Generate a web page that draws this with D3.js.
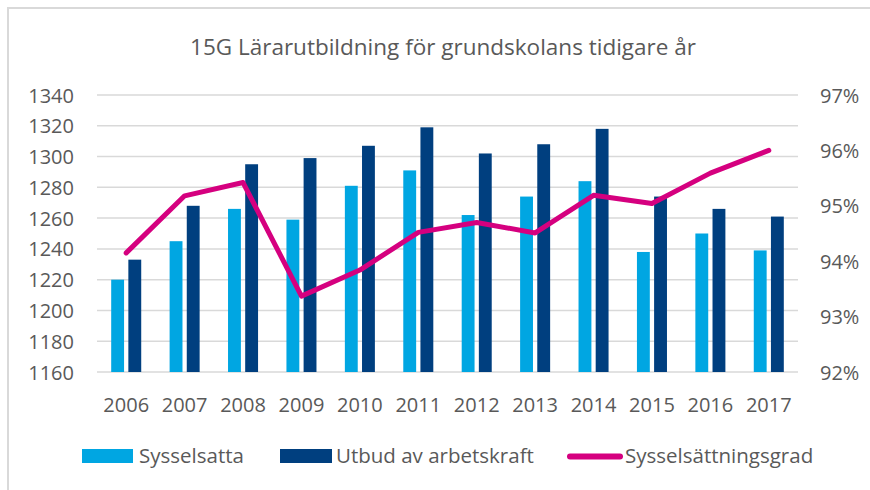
<!DOCTYPE html>
<html>
<head>
<meta charset="utf-8">
<script src="https://cdn.jsdelivr.net/npm/d3@7"></script>
<style>
  body { margin: 0; background: #fff; }
  text { font-family: "Open Sans", sans-serif; fill: #595959; }
</style>
</head>
<body>
<script>
const years = ["2006", "2007", "2008", "2009", "2010", "2011", "2012", "2013", "2014", "2015", "2016", "2017"];
const sysselsatta = [1220, 1245, 1266, 1259, 1281, 1291, 1262, 1274, 1284, 1238, 1250, 1239];
const utbud = [1233, 1268, 1295, 1299, 1307, 1319, 1302, 1308, 1318, 1274, 1266, 1261];
const grad = [94.15, 95.18, 95.42, 93.37, 93.84, 94.52, 94.70, 94.51, 95.19, 95.04, 95.59, 96.0];
const leftTicks = [1160, 1180, 1200, 1220, 1240, 1260, 1280, 1300, 1320, 1340];
const rightTicks = [92, 93, 94, 95, 96, 97];

const width = 870, height = 490;
const plot = {left: 97, right: 798, top: 95, bottom: 372};

const colLight = "#00a6e2", colDark = "#003f7f", colLine = "#d5007f";

let svg = d3.select("body")
    .append("svg")
    .attr("width", width)
    .attr("height", height);

// frame
svg.append("path")
    .attr("d", "M8,490 V8 H870")
    .attr("fill", "none")
    .attr("stroke", "#d9d9d9")
    .attr("stroke-width", 2);

let x0 = d3.scaleBand()
    .domain(years)
    .range([plot.left, plot.right])
    .paddingInner(0.486)
    .paddingOuter(0.243);

let x1 = d3.scaleBand()
    .domain(["s", "u"])
    .range([0, x0.bandwidth()])
    .paddingInner(0.25);

let yLeft = d3.scaleLinear()
    .domain([1160, 1340])
    .range([plot.bottom, plot.top]);

let yRight = d3.scaleLinear()
    .domain([92, 97])
    .range([plot.bottom, plot.top]);

// gridlines
svg.append("g")
    .selectAll("line")
    .data(leftTicks)
    .enter()
    .append("line")
    .attr("x1", plot.left)
    .attr("x2", plot.right)
    .attr("y1", d => yLeft(d))
    .attr("y2", d => yLeft(d))
    .attr("stroke", "#d9d9d9")
    .attr("stroke-width", 1.5);

// left axis
let axL = svg.append("g")
    .attr("transform", "translate(" + (plot.left - 23) + ",0)")
    .call(d3.axisLeft(yLeft).tickValues(leftTicks).tickSize(0).tickPadding(0)
        .tickFormat(d3.format("d")));
axL.select(".domain").remove();
axL.selectAll("text").style("font-size", "20px").attr("dy", "0.35em");

// right axis
let axR = svg.append("g")
    .attr("transform", "translate(" + (plot.right + 22) + ",0)")
    .call(d3.axisRight(yRight).tickValues(rightTicks).tickSize(0).tickPadding(0)
        .tickFormat(d => d + "%"));
axR.select(".domain").remove();
axR.selectAll("text").style("font-size", "20px").attr("dy", "0.35em");

// x axis
let axX = svg.append("g")
    .attr("transform", "translate(0," + plot.bottom + ")")
    .call(d3.axisBottom(x0).tickSize(0).tickPadding(26));
axX.select(".domain").remove();
axX.selectAll("text").style("font-size", "20px");

// bars
let groups = svg.append("g")
    .selectAll("g")
    .data(years)
    .enter()
    .append("g")
    .attr("transform", d => "translate(" + x0(d) + ",0)");

groups.append("rect")
    .attr("x", x1("s"))
    .attr("width", x1.bandwidth())
    .attr("y", (d, i) => yLeft(sysselsatta[i]))
    .attr("height", (d, i) => plot.bottom - yLeft(sysselsatta[i]))
    .attr("fill", colLight);

groups.append("rect")
    .attr("x", x1("u"))
    .attr("width", x1.bandwidth())
    .attr("y", (d, i) => yLeft(utbud[i]))
    .attr("height", (d, i) => plot.bottom - yLeft(utbud[i]))
    .attr("fill", colDark);

// line
let valueline = d3.line()
    .x((d, i) => x0(years[i]) + x0.bandwidth() / 2)
    .y(d => yRight(d));

svg.append("path")
    .datum(grad)
    .attr("d", valueline)
    .attr("fill", "none")
    .attr("stroke", colLine)
    .attr("stroke-width", 5)
    .attr("stroke-linejoin", "round")
    .attr("stroke-linecap", "round");

// title
svg.append("text")
    .attr("x", 443)
    .attr("y", 55)
    .attr("text-anchor", "middle")
    .style("font-size", "22.5px")
    .text("15G Lärarutbildning för grundskolans tidigare år");

// legend
let legY = 456;
svg.append("rect").attr("x", 82).attr("y", legY - 7).attr("width", 51).attr("height", 14).attr("fill", colLight);
svg.append("text").attr("x", 139).attr("y", legY).attr("dy", "0.35em").style("font-size", "20.5px").text("Sysselsatta");
svg.append("rect").attr("x", 280).attr("y", legY - 7).attr("width", 52).attr("height", 14).attr("fill", colDark);
svg.append("text").attr("x", 336).attr("y", legY).attr("dy", "0.35em").style("font-size", "20.5px").text("Utbud av arbetskraft");
svg.append("line").attr("x1", 570).attr("x2", 620).attr("y1", legY + 0.5).attr("y2", legY + 0.5)
    .attr("stroke", colLine).attr("stroke-width", 6).attr("stroke-linecap", "round");
svg.append("text").attr("x", 625).attr("y", legY).attr("dy", "0.35em").style("font-size", "20.5px").text("Sysselsättningsgrad");
</script>
</body>
</html>
